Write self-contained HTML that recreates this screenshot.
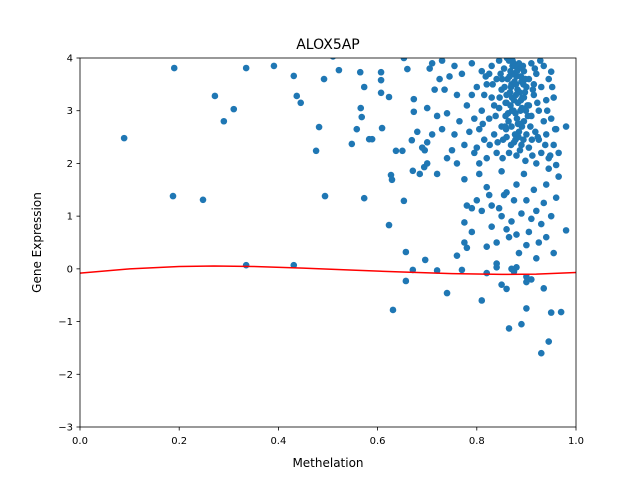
<!DOCTYPE html>
<html><head><meta charset="utf-8"><style>
body{margin:0;background:#fff;}
svg text{font-family:"DejaVu Sans","Liberation Sans",sans-serif;fill:#000;}
</style></head><body>
<svg id="chart" width="640" height="480" xmlns="http://www.w3.org/2000/svg">
<rect width="640" height="480" fill="#fff"/>
<text x="328" y="49" font-size="14" text-anchor="middle">ALOX5AP</text>
<text x="328" y="467" font-size="12" text-anchor="middle">Methelation</text>
<text transform="translate(41,242.5) rotate(-90)" font-size="12" text-anchor="middle">Gene Expression</text>
<g id="plot"></g>
</svg>
<script>
const xTicks=[0,0.2,0.4,0.6,0.8,1.0];
const xTickLabels=["0.0","0.2","0.4","0.6","0.8","1.0"];
const yTicks=[-3,-2,-1,0,1,2,3,4];
const yTickLabels=["−3","−2","−1","0","1","2","3","4"];
const methylation=[0.089,0.1875,0.19,0.248,0.272,0.29,0.31,0.335,0.335,0.391,0.431,0.437,0.445,0.431,0.476,0.482,0.494,0.492,0.51,0.522,0.548,0.558,0.565,0.566,0.568,0.573,0.573,0.583,0.589,0.607,0.607,0.607,0.609,0.623,0.623,0.627,0.629,0.631,0.637,0.65,0.653,0.657,0.657,0.653,0.66,0.669,0.671,0.671,0.673,0.673,0.685,0.694,0.696,
0.72,0.74,0.76,0.77,0.81,0.82,0.85,0.86,0.865,0.875,0.89,0.9,0.93,0.945,0.95,0.97,0.935,0.9,0.91,0.88,0.87,0.84,
0.775,0.78,0.775,0.78,0.79,0.8,0.805,0.81,0.82,0.825,0.83,0.84,0.845,0.85,0.855,0.86,0.86,0.865,0.87,0.875,0.88,0.88,0.885,0.89,0.895,0.9,0.9,0.905,0.91,0.915,0.92,0.92,0.925,0.93,0.935,0.94,0.94,0.945,0.95,0.955,0.96,0.965,0.98,0.79,0.82,0.84,0.85,0.83,0.9,
0.7,0.705,0.71,0.715,0.72,0.725,0.73,0.735,0.74,0.745,0.75,0.755,0.76,0.765,0.77,0.775,0.78,0.785,0.79,0.795,0.8,0.7,0.72,0.74,0.76,0.775,0.71,0.73,0.755,0.79,0.795,
0.8,0.805,0.81,0.81,0.815,0.82,0.82,0.825,0.83,0.83,0.835,0.84,0.84,0.845,0.845,0.85,0.85,0.805,0.815,0.825,0.835,0.842,0.848,
0.852,0.855,0.858,0.86,0.86,0.862,0.865,0.865,0.868,0.87,0.87,0.872,0.875,0.875,0.878,0.88,0.88,0.882,0.885,0.885,0.888,0.89,0.89,0.892,0.895,0.895,0.898,0.9,0.9,0.902,0.856,0.863,0.873,0.877,0.883,0.887,0.893,0.897,0.853,0.867,0.879,0.891,0.899,0.861,0.884,0.857,0.869,0.881,0.894,0.874,
0.905,0.905,0.91,0.91,0.912,0.915,0.918,0.92,0.92,0.925,0.925,0.93,0.93,0.935,0.935,0.94,0.94,0.945,0.945,0.95,0.95,0.955,0.955,0.96,0.96,0.965,0.98,0.915,0.908,0.922,0.928,0.938,0.942,0.952,0.958,0.948,
0.69,0.695,0.68,0.7,
0.86,0.866,0.871,0.876,0.881,0.886,0.891,0.896,0.864,0.869,0.874,0.879,0.884,0.889,0.894,0.859,0.871,0.883,0.895,0.877,0.889,0.851,0.846,0.838,0.832,0.826,0.818,0.812,0.905,0.911,0.917,0.903,0.913,0.923,0.868,0.878,0.888,0.898,0.858,0.872];
const expression=[2.48,1.38,3.81,1.31,3.28,2.8,3.03,3.81,0.07,3.85,3.66,3.28,3.15,0.07,2.24,2.69,1.38,3.6,4.03,3.77,2.37,2.65,3.73,3.05,2.88,1.34,3.45,2.46,2.46,3.73,3.58,3.34,2.67,0.83,3.26,1.78,1.69,-0.78,2.24,2.24,1.29,0.32,-0.23,4.0,3.79,2.44,1.86,-0.02,2.98,3.22,1.8,1.93,0.17,
-0.03,-0.46,0.25,-0.02,-0.6,-0.08,-0.3,-0.38,-1.13,-0.05,-1.05,-0.75,-1.6,-1.38,-0.83,-0.82,-0.37,-0.25,-0.2,0.03,0.0,0.1,
0.5,0.4,0.88,1.2,1.15,1.3,1.8,1.1,1.55,1.4,0.8,0.5,1.15,1.0,1.4,0.75,1.45,0.6,0.9,1.3,0.65,1.6,0.3,1.05,1.8,0.45,1.3,0.7,0.95,1.5,0.2,1.1,0.5,0.85,1.25,0.6,1.6,1.9,1.0,0.3,1.35,1.75,0.73,0.7,0.42,0.03,1.85,1.2,-0.15,
3.05,3.8,2.55,3.4,2.9,3.6,2.65,3.4,2.95,3.65,2.25,2.55,3.3,2.8,3.7,2.35,3.1,2.6,3.9,2.2,3.45,2.0,1.8,2.1,2.0,1.7,3.9,3.95,3.85,3.3,2.85,
2.3,2.65,3.0,3.75,2.45,3.5,2.1,2.85,3.25,3.85,2.55,3.6,2.2,3.05,3.95,2.7,3.4,2.0,3.3,3.7,3.1,2.4,3.7,
2.1,3.8,2.9,3.3,2.5,3.6,2.2,3.95,3.1,2.7,3.5,3.85,2.4,3.2,2.95,3.65,2.15,3.4,2.6,3.9,3.0,3.55,2.35,3.25,2.8,3.75,2.05,3.45,2.55,3.1,3.45,2.95,3.7,2.55,3.15,2.25,3.85,3.35,2.45,3.35,3.5,2.7,3.0,4.0,3.8,2.7,2.35,2.85,2.45,3.0,
2.3,3.6,2.9,3.9,2.15,3.3,2.6,3.7,2.0,3.0,2.45,3.45,2.2,2.8,3.85,2.55,3.2,2.1,3.6,2.85,3.74,2.35,3.25,2.65,1.97,2.2,2.7,3.5,2.7,3.15,3.95,2.35,3.0,3.45,2.65,2.15,
2.3,2.25,2.6,2.4,
3.15,3.65,3.25,3.55,3.75,3.35,3.05,3.6,2.8,3.45,3.9,3.3,2.5,3.2,3.5,2.65,3.0,2.75,3.25,3.85,3.65,3.6,3.25,2.9,3.5,2.35,3.65,2.75,3.1,2.45,3.8,2.9,3.4,2.5,3.75,2.45,2.75,3.6,3.15,3.95];
const fitX=[0,0.1,0.2,0.27,0.35,0.45,0.55,0.65,0.75,0.85,0.92,1.0];
const fitY=[-0.08,0.0,0.045,0.055,0.045,0.015,-0.025,-0.06,-0.09,-0.105,-0.1,-0.07];

const L=80,R=576,T=58,B=427;
const sx=v=>L+(v-0)/(1-0)*(R-L);
const sy=v=>T+(4-v)/(4-(-3))*(B-T);
const NS="http://www.w3.org/2000/svg";
const g=document.getElementById('plot');
function mk(t,a){const e=document.createElementNS(NS,t);for(const k in a)e.setAttribute(k,a[k]);g.appendChild(e);return e;}
const clip=document.createElementNS(NS,'clipPath');clip.setAttribute('id','cp');
const cr=document.createElementNS(NS,'rect');cr.setAttribute('x',L);cr.setAttribute('y',T);cr.setAttribute('width',R-L);cr.setAttribute('height',B-T);
clip.appendChild(cr);g.appendChild(clip);
const pts=document.createElementNS(NS,'g');pts.setAttribute('clip-path','url(#cp)');g.appendChild(pts);
for(let i=0;i<methylation.length;i++){
  const c=document.createElementNS(NS,'circle');
  c.setAttribute('cx',sx(methylation[i]));c.setAttribute('cy',sy(expression[i]));c.setAttribute('r',3.3);c.setAttribute('fill','#1f77b4');
  
  
  pts.appendChild(c);
}
let d='';fitX.forEach((x,i)=>{d+=(i?'L':'M')+sx(x)+' '+sy(fitY[i]);});
const fl=mk('path',{d:d,fill:'none',stroke:'#ff0000','stroke-width':1.5});


const fr=mk('rect',{x:L,y:T,width:R-L,height:B-T,fill:'none',stroke:'#000','stroke-width':0.8});


xTicks.forEach((v,i)=>{
  mk('line',{x1:sx(v),x2:sx(v),y1:B,y2:B+3.5,stroke:'#000','stroke-width':0.8});
  const t=mk('text',{x:sx(v),y:B+17,'font-size':10,'text-anchor':'middle'});t.textContent=xTickLabels[i];
  
  
});
yTicks.forEach((v,i)=>{
  mk('line',{x1:L-3.5,x2:L,y1:sy(v),y2:sy(v),stroke:'#000','stroke-width':0.8});
  const t=mk('text',{x:L-7,y:sy(v)+3.5,'font-size':10,'text-anchor':'end'});t.textContent=yTickLabels[i];
  
  
});
</script>
</body></html>
